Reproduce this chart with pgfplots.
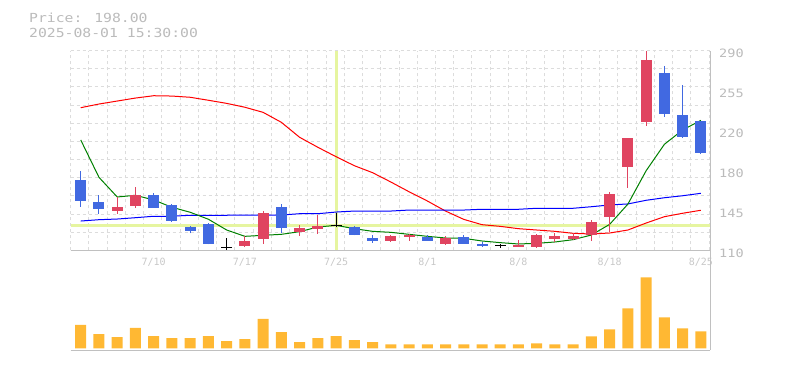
\documentclass[border=0pt]{standalone}
\usepackage{pgfplots}
\pgfplotsset{compat=1.18}
\usepackage{pgfplotstable}
\usepackage{fontspec}
\newfontfamily\monoA[FakeStretch=1.18]{DejaVu Sans Mono}
\newfontfamily\monoB{DejaVu Sans Mono}
\definecolor{upc}{RGB}{224,68,96}
\definecolor{dnc}{RGB}{65,105,225}
\definecolor{volc}{RGB}{255,184,51}
\definecolor{gridc}{RGB}{220,220,220}
\definecolor{axc}{RGB}{192,192,192}
\definecolor{txtc}{RGB}{187,187,187}
\definecolor{xtxtc}{RGB}{200,200,200}
\definecolor{crossc}{RGB}{230,245,160}
\definecolor{mag}{RGB}{0,128,0}

% up candles (close > open)
\pgfplotstableread{
x O H L C
2 145.7 157.8 143.0 149.1
3 150.2 167.1 148.4 159.9
9 114.2 122.9 113.3 118.4
10 120.5 145.7 116.0 143.6
12 126.8 132.8 123.2 130.1
13 129.5 141.8 125.0 131.9
17 118.4 123.4 117.5 122.9
18 122.3 125.0 118.4 123.8
20 116.0 122.9 114.8 121.1
24 113.3 119.3 113.3 114.8
25 113.0 124.7 112.1 123.8
26 120.5 125.6 117.5 122.9
27 120.5 125.9 119.3 122.9
28 124.1 137.6 118.7 135.5
29 140.3 162.8 126.5 160.8
30 185.4 211.3 166.4 211.3
31 226.0 290.0 222.4 281.6
}\up
% down candles
\pgfplotstableread{
x O H L C
0 173.4 181.8 149.3 154.7
1 153.6 159.9 142.7 147.5
4 159.9 161.7 148.4 148.4
5 150.9 151.8 135.8 136.7
6 131.0 131.9 125.3 127.7
7 133.7 134.3 115.4 116.0
11 149.1 151.8 125.9 130.4
15 131.0 131.6 123.5 124.1
16 121.1 123.8 116.9 118.7
19 122.3 123.8 118.7 118.7
21 122.0 123.5 115.7 116.0
22 116.0 117.5 113.3 114.2
32 269.9 276.2 230.5 233.2
33 232.0 259.1 211.5 212.2
34 226.6 226.9 196.8 198.0
}\down
% doji
\pgfplotstableread{
x O H L C
8 112.7 121.4 110.3 112.7
14 132.8 143.9 130.7 132.8
23 113.9 115.7 112.1 113.9
}\doji
% moving averages
\pgfplotstableread{
x g r b
0 209.5 238.6 136.4
1 175.8 241.9 137.6
2 158.1 244.6 138.2
3 159.6 247.3 139.4
4 155.4 249.4 140.7
5 148.8 249.1 140.7
6 144.3 248.0 141.6
7 138.0 245.3 141.6
8 128.3 242.5 141.6
9 122.6 239.0 141.8
10 123.5 234.4 141.8
11 124.4 225.4 141.8
12 126.8 211.9 143.0
13 131.0 202.9 143.0
14 132.5 194.4 144.5
15 129.5 186.3 145.4
16 127.1 180.0 145.4
17 126.2 171.6 145.4
18 124.4 162.8 146.3
19 122.6 154.5 146.3
20 121.1 145.4 146.3
21 120.8 137.9 146.3
22 118.4 133.1 147.0
23 116.9 131.6 147.0
24 115.7 129.5 147.0
25 116.3 128.3 147.9
26 117.5 127.1 147.9
27 119.6 125.3 147.9
28 123.8 124.7 149.3
29 133.4 125.6 150.9
30 151.7 128.3 151.8
31 181.8 134.6 155.1
32 205.6 140.3 157.4
33 218.5 143.4 159.2
34 227.2 146.1 161.4
}\ma
% volume
\pgfplotstableread{
x v
0 23.3
1 14.3
2 11.3
3 20.3
4 12.3
5 10.3
6 10.3
7 12.3
8 7.3
9 9.3
10 29.3
11 16.3
12 6.3
13 10.3
14 12.3
15 8.3
16 6.3
17 4
18 4
19 4
20 4
21 4
22 4
23 4
24 4
25 5
26 4
27 4
28 12
29 19
30 40
31 71
32 31
33 20
34 17
}\vol

\pgfplotsset{
  candlewick/.style={draw=none, no markers,
    error bars/.cd, y dir=plus, y explicit, error mark=none,
    error bar style={line width=1pt, draw=#1}},
  candlebody/.style={draw=none, no markers,
    error bars/.cd, y dir=plus, y explicit, error mark=none,
    error bar style={line width=11pt, draw=#1}},
}

\begin{document}
\begin{tikzpicture}
\path[use as bounding box] (0,0) rectangle (785pt,370pt);

\node[anchor=west, inner sep=0pt, text=txtc, font={\monoA\fontsize{12.5}{14}\selectfont}] at (29pt,352pt) {Price: 198.00};
\node[anchor=west, inner sep=0pt, text=txtc, font={\monoA\fontsize{12.5}{14}\selectfont}] at (29pt,337.5pt) {2025-08-01 15:30:00};

\begin{axis}[
  at={(70.7pt,119.7pt)}, anchor=south west,
  scale only axis, width=639.3pt, height=199.6pt,
  xmin=-0.55, xmax=34.5, ymin=110, ymax=290,
  axis x line*=bottom, axis y line*=right,
  axis line style={axc, line width=1pt, -},
  xtick={4,9,14,19,24,29,34},
  xticklabels={7/10,7/17,7/25,8/1,8/8,8/18,8/25},
  ytick={110,146,182,218,254,290},
  yticklabels={110,145,180,220,255,290},
  minor xtick={-0.55,0.45,...,34.45},
  minor ytick={110,126.36,142.73,159.09,175.45,191.82,208.18,224.55,240.91,257.27,273.64,290},
  xminorgrids, yminorgrids,
  minor grid style={gridc, dash pattern=on 3pt off 3pt, line width=1pt},
  major tick length=0pt, minor tick length=0pt,
  xticklabel style={anchor=center, inner sep=0pt, yshift=-11.7pt, text=xtxtc, font={\monoB\fontsize{10}{12}\selectfont}},
  yticklabel style={anchor=west, inner sep=0pt, xshift=9pt, yshift=-2.6pt, text=txtc, font={\monoA\fontsize{11.5}{13}\selectfont}},
  clip=true,
]
% crosshair
\addplot[crossc, line width=3pt, no marks] coordinates {(14,110) (14,290)};
\addplot[crossc, line width=3pt, no marks] coordinates {(-0.55,132.8) (34.5,132.8)};
% moving averages
\addplot[red, line width=1pt, no marks] table[x=x, y=r] {\ma};
\addplot[blue, line width=1pt, no marks] table[x=x, y=b] {\ma};
\addplot[mag, line width=1pt, no marks] table[x=x, y=g] {\ma};
% up candles
\addplot[candlewick=upc] table[x=x, y=L, y error plus expr=\thisrow{H}-\thisrow{L}] {\up};
\addplot[candlebody=upc] table[x=x, y expr={min(\thisrow{O},\thisrow{C})}, y error plus expr={abs(\thisrow{C}-\thisrow{O})}] {\up};
% down candles
\addplot[candlewick=dnc] table[x=x, y=L, y error plus expr=\thisrow{H}-\thisrow{L}] {\down};
\addplot[candlebody=dnc] table[x=x, y expr={min(\thisrow{O},\thisrow{C})}, y error plus expr={abs(\thisrow{C}-\thisrow{O})}] {\down};
% doji
\addplot[candlewick=black] table[x=x, y=L, y error plus expr=\thisrow{H}-\thisrow{L}] {\doji};
\addplot[black, only marks, mark=-, mark size=5.5pt, mark options={line width=1pt}] table[x=x, y=C] {\doji};
\end{axis}

\begin{axis}[
  at={(70.7pt,20pt)}, anchor=south west,
  scale only axis, width=639.3pt, height=99.7pt,
  xmin=-0.55, xmax=34.5, ymin=-1.7, ymax=98,
  axis x line*=bottom, axis y line*=right,
  axis line style={axc, line width=1pt, -},
  xtick=\empty, ytick=\empty,
  minor xtick={-0.55,0.45,...,34.45},
  xminorgrids,
  minor grid style={gridc, dash pattern=on 3pt off 3pt, line width=1pt},
  major tick length=0pt, minor tick length=0pt,
]
\addplot[ybar, bar width=11pt, fill=volc, draw=none] table[x=x, y=v] {\vol};
\end{axis}
\end{tikzpicture}
\end{document}
